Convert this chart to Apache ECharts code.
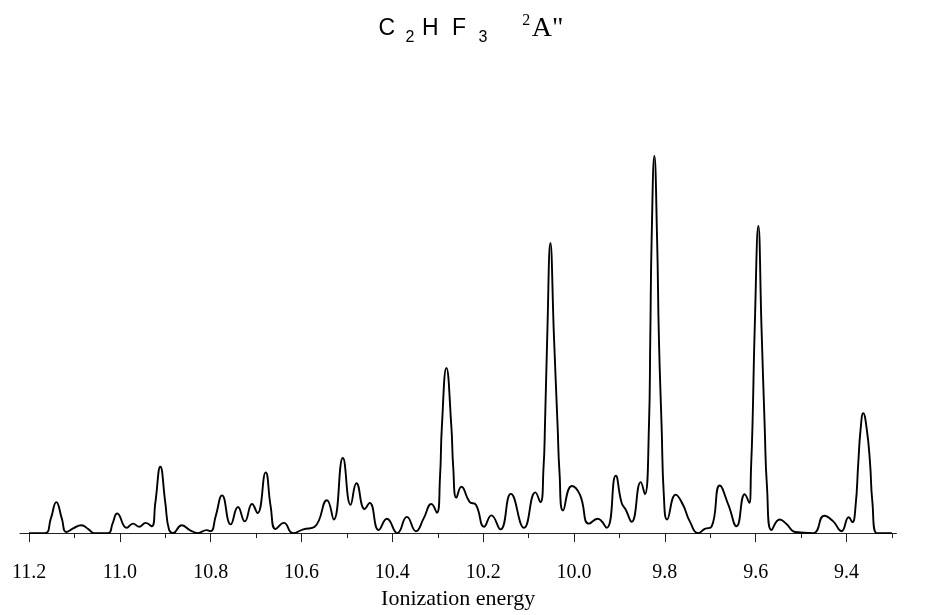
<!DOCTYPE html>
<html>
<head>
<meta charset="utf-8">
<script src="https://cdn.jsdelivr.net/npm/echarts@6/dist/echarts.min.js"></script>
<style>
  html, body { margin: 0; padding: 0; background: #fff; }
  #chart { width: 925px; height: 615px; }
</style>
</head>
<body>
<div id="chart"></div>
<script>
// Ionization energy (eV)
const energy = [
  11.200, 11.165, 11.152, 11.140, 11.128, 11.118, 11.102, 11.085, 11.069, 11.057,
  11.026, 11.016, 11.006, 10.985, 10.971, 10.958, 10.943, 10.930, 10.922, 10.911,
  10.900, 10.892, 10.883, 10.864, 10.846, 10.828, 10.809, 10.800, 10.789, 10.775,
  10.756, 10.740, 10.725, 10.709, 10.697, 10.679, 10.668, 10.657, 10.639, 10.619,
  10.596, 10.571, 10.544, 10.529, 10.509, 10.492, 10.479, 10.461, 10.450, 10.430,
  10.412, 10.389, 10.368, 10.348, 10.331, 10.314, 10.302, 10.295, 10.291, 10.281,
  10.270, 10.266, 10.259, 10.248, 10.230, 10.216, 10.198, 10.182, 10.162, 10.139,
  10.110, 10.085, 10.074, 10.067, 10.064, 10.059, 10.052, 10.044, 10.036, 10.032,
  10.024, 10.005, 9.987, 9.967, 9.948, 9.928, 9.908, 9.895, 9.886, 9.873,
  9.853, 9.844, 9.835, 9.832, 9.829, 9.823, 9.817, 9.813, 9.807, 9.802,
  9.795, 9.776, 9.760, 9.745, 9.726, 9.712, 9.697, 9.679, 9.660, 9.642,
  9.624, 9.614, 9.610, 9.607, 9.602, 9.594, 9.587, 9.580, 9.575, 9.565,
  9.547, 9.532, 9.513, 9.473, 9.449, 9.429, 9.411, 9.395, 9.387, 9.380,
  9.374, 9.369, 9.363, 9.355, 9.348, 9.343, 9.333, 9.300
];
// Relative intensity (tallest peak = 100)
const intensity = [
  0, 0, 3.9, 8.2, 3.9, 0.3, 1.3, 2.1, 1.0, 0,
  0, 2.6, 5.2, 1.4, 2.5, 1.7, 2.7, 1.8, 8.0, 17.6,
  8.0, 1.0, 0, 2.1, 0.8, 0, 0.8, 0.5, 4.5, 10.0,
  2.3, 6.9, 3.1, 7.7, 5.3, 16.1, 7.1, 1.1, 2.7, 0,
  1.0, 1.7, 8.7, 3.6, 19.9, 7.5, 13.2, 6.4, 8.0, 0.8,
  3.8, 0, 4.3, 0.5, 3.9, 7.7, 5.4, 15.0, 28.1, 43.8,
  28.1, 17.6, 9.4, 12.3, 8.3, 7.5, 1.7, 4.7, 1.0, 10.4,
  1.4, 10.8, 8.2, 17.6, 28.1, 51.7, 76.9, 51.7, 28.1, 16.3,
  6.0, 12.5, 10.2, 2.5, 3.8, 1.4, 15.2, 8.0, 6.2, 3.0,
  13.5, 10.3, 28.1, 51.7, 78.0, 100, 78.0, 51.7, 28.1, 9.7,
  3.6, 10.2, 7.5, 3.1, 0, 1.1, 1.7, 12.6, 7.5, 1.8,
  10.3, 8.0, 17.6, 28.1, 54.3, 81.4, 54.3, 28.1, 12.3, 0.8,
  3.6, 2.4, 0.3, 0, 4.6, 3.1, 0.5, 4.2, 2.9, 7.1,
  18.5, 27.3, 31.8, 27.3, 18.5, 8.4, 0, 0
];
// Axis ticks
const majorTicks = [11.2, 11.0, 10.8, 10.6, 10.4, 10.2, 10.0, 9.8, 9.6, 9.4];
const minorTicks = [11.1, 10.9, 10.7, 10.5, 10.3, 10.1, 9.9, 9.7, 9.5, 9.3];
const axisName = 'Ionization energy';

const points = energy.map((e, i) => [e, intensity[i]]);

const chart = echarts.init(document.getElementById('chart'), null, { renderer: 'canvas' });
const serif = '"Liberation Serif", "DejaVu Serif", serif';
const sans = '"Liberation Sans", "DejaVu Sans", sans-serif';

chart.setOption({
  animation: false,
  backgroundColor: '#ffffff',
  grid: { left: 20, right: 28.6, top: 137, bottom: 78 },
  xAxis: [
    {
      type: 'value', inverse: true, min: 9.29, max: 11.22,
      name: axisName, nameLocation: 'middle', nameGap: 50,
      nameTextStyle: { fontFamily: serif, fontSize: 22, color: '#000' },
      axisLine: { show: true, onZero: false, lineStyle: { color: '#222', width: 1 } },
      axisTick: { show: true, length: 9, customValues: majorTicks, lineStyle: { color: '#222', width: 1 } },
      axisLabel: {
        show: true, customValues: majorTicks, margin: 30,
        fontFamily: serif, fontSize: 20, color: '#000',
        formatter: v => Number(v).toFixed(1)
      },
      splitLine: { show: false }
    },
    {
      type: 'value', inverse: true, min: 9.29, max: 11.22, position: 'bottom',
      axisLine: { show: false },
      axisTick: { show: true, length: 5, customValues: minorTicks, lineStyle: { color: '#222', width: 1 } },
      axisLabel: { show: false },
      splitLine: { show: false }
    }
  ],
  yAxis: { type: 'value', min: 0, max: 105, show: false },
  series: [{
    type: 'line',
    data: points,
    xAxisIndex: 0,
    showSymbol: false,
    smooth: 0.5,
    lineStyle: { color: '#000', width: 1.9 },
    z: 3
  }],
  graphic: [
    { type: 'text', style: { text: 'C', x: 386.7, y: 28.3, align: 'center', verticalAlign: 'middle', font: '23px ' + sans, fill: '#000' } },
    { type: 'text', style: { text: '2', x: 410, y: 37.5, align: 'center', verticalAlign: 'middle', font: '16px ' + sans, fill: '#000' } },
    { type: 'text', style: { text: 'H', x: 430.3, y: 28.3, align: 'center', verticalAlign: 'middle', font: '23px ' + sans, fill: '#000' } },
    { type: 'text', style: { text: 'F', x: 459, y: 28.3, align: 'center', verticalAlign: 'middle', font: '23px ' + sans, fill: '#000' } },
    { type: 'text', style: { text: '3', x: 483, y: 37.8, align: 'center', verticalAlign: 'middle', font: '16px ' + sans, fill: '#000' } },
    { type: 'text', style: { text: '2', x: 526.3, y: 21.2, align: 'center', verticalAlign: 'middle', font: '16px ' + serif, fill: '#000' } },
    { type: 'text', style: { text: 'A"', x: 531.7, y: 28.8, align: 'left', verticalAlign: 'middle', font: '28px ' + serif, fill: '#000' } }
  ]
});
</script>
</body>
</html>
